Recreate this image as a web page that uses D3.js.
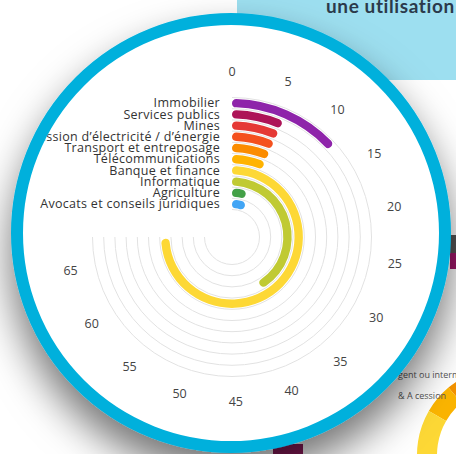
<!DOCTYPE html>
<html>
<head>
<meta charset="utf-8">
<script src="https://cdn.jsdelivr.net/npm/d3@7"></script>
<style>
  body { margin: 0; background: #fff; overflow: hidden; }
  svg { display: block; }
</style>
</head>
<body>
<svg id="chart" width="456" height="454"></svg>
<script>
const svg = d3.select("#chart");

// data
const categories = [
    "Immobilier", "Services publics", "Mines",
    "Transmission d’électricité / d’énergie", "Transport et entreposage",
    "Télécommunications", "Banque et finance", "Informatique",
    "Agriculture", "Avocats et conseils juridiques"
];
const values = [12, 6, 6, 6, 6, 6, 67.6, 37.7, 4.5, 5.7];
const COLORS = [
    "#8e24aa", "#ad1457", "#e53935", "#f4511e", "#fb8c00",
    "#ffb300", "#fdd835", "#c0ca33", "#43a047", "#42a5f5"
];
const tickValues = d3.range(0, 70, 5);

// background bits around the framed chart
const bgDonutLabels = ["gent ou interm", "& A cession"];
const bgDonutSlices = [20, 20, 85]; // degrees of visible segments
const bgDonutColors = ["#f39200", "#fbb400", "#fdd835"];

const CX = 232, CY = 237;
const FRAME = { x: 231, y: 233, r: 214 };

const data = categories.map((c, i) => ({ id: i, name: c, value: values[i], color: COLORS[i] }));

const angle = d3.scaleLinear().domain([0, 68]).range([0, 1.5 * Math.PI]);
const band = d3.scaleBand()
    .domain(categories.slice().reverse())
    .range([27.5, 139.5])
    .paddingInner(0.25)
    .paddingOuter(0.125);

const defs = svg.append("defs");
const shadow = defs.append("filter").attr("id", "shadow")
    .attr("x", "-30%").attr("y", "-30%").attr("width", "160%").attr("height", "170%");
shadow.append("feDropShadow")
    .attr("dx", 0).attr("dy", 22).attr("stdDeviation", 20)
    .attr("flood-color", "#000").attr("flood-opacity", 0.55);
defs.append("clipPath").attr("id", "inside")
    .append("circle").attr("cx", FRAME.x).attr("cy", FRAME.y).attr("r", FRAME.r - 6);

// ---- page background behind the circle
svg.append("rect")
    .attr("x", 237).attr("y", 0).attr("width", 219).attr("height", 80)
    .attr("fill", "#9ddff0");
svg.append("text")
    .attr("x", 326).attr("y", 13)
    .style("font-family", "Lato, sans-serif").style("font-weight", 700)
    .style("font-size", "19px").style("letter-spacing", "0.6px")
    .attr("fill", "#2b3a4b")
    .text("une utilisation");
svg.append("rect").attr("x", 450).attr("y", 235).attr("width", 6).attr("height", 18).attr("fill", "#555");
svg.append("rect").attr("x", 450).attr("y", 253).attr("width", 6).attr("height", 16).attr("fill", "#a0176a");
svg.append("rect").attr("x", 273).attr("y", 444).attr("width", 30).attr("height", 10).attr("fill", "#8b1a5a");

const bgArc = d3.arc().innerRadius(68).outerRadius(88);
let a0 = 340;
bgDonutSlices.forEach((s, i) => {
    svg.append("path")
        .attr("transform", "translate(505,455)")
        .attr("d", bgArc({ startAngle: (a0 - s) * Math.PI / 180, endAngle: a0 * Math.PI / 180 }))
        .attr("fill", bgDonutColors[i]);
    a0 -= s;
});
bgDonutLabels.forEach((t, i) => {
    svg.append("text")
        .attr("x", 398).attr("y", 378 + i * 21)
        .style("font-family", "'Open Sans', sans-serif").style("font-size", "9px")
        .attr("fill", "#555").text(t);
});

// ---- the round frame
svg.append("circle")
    .attr("cx", FRAME.x).attr("cy", FRAME.y).attr("r", FRAME.r)
    .attr("fill", "#fff").attr("stroke", "#00b0dc").attr("stroke-width", 12)
    .attr("filter", "url(#shadow)");

const g = svg.append("g").attr("clip-path", "url(#inside)");

// grid rings at band edges, 270 degrees sweep
const ringRadii = categories.map((_, i) => 27.5 + i * band.step()).concat([139.5]);
g.selectAll(".ring").data(ringRadii).join("path")
    .attr("class", "ring")
    .attr("d", r => {
        const p = d3.path();
        p.arc(CX, CY, r, -Math.PI / 2, Math.PI, false);
        return p.toString();
    })
    .attr("fill", "none").attr("stroke", "#e2e2e2").attr("stroke-width", 1);

// bars
const arc = d3.arc()
    .innerRadius(d => band(d.name))
    .outerRadius(d => band(d.name) + band.bandwidth())
    .startAngle(0)
    .endAngle(d => angle(d.value))
    .cornerRadius(band.bandwidth() / 2);

g.selectAll(".bar").data(data, d => d.id).join("path")
    .attr("class", "bar")
    .attr("transform", `translate(${CX},${CY})`)
    .attr("d", arc)
    .attr("fill", d => d.color);

// category labels
g.selectAll(".cat").data(data, d => d.id).join("text")
    .attr("class", "cat")
    .attr("x", CX - 12)
    .attr("y", d => CY - band(d.name) - band.bandwidth() / 2)
    .attr("dy", "0.35em")
    .attr("text-anchor", "end")
    .style("font-family", "'Open Sans', sans-serif")
    .style("font-size", "12.5px")
    .style("letter-spacing", "0.3px")
    .attr("fill", "#333")
    .text(d => d.name);

// value ticks around the outside
g.selectAll(".tick").data(tickValues).join("text")
    .attr("class", "tick")
    .attr("x", v => CX + 165 * Math.sin(angle(v)))
    .attr("y", v => CY - 165 * Math.cos(angle(v)))
    .attr("dy", "0.35em")
    .attr("text-anchor", "middle")
    .style("font-family", "'Open Sans', sans-serif")
    .style("font-size", "12.5px")
    .attr("fill", "#444")
    .text(v => v);
</script>
</body>
</html>
